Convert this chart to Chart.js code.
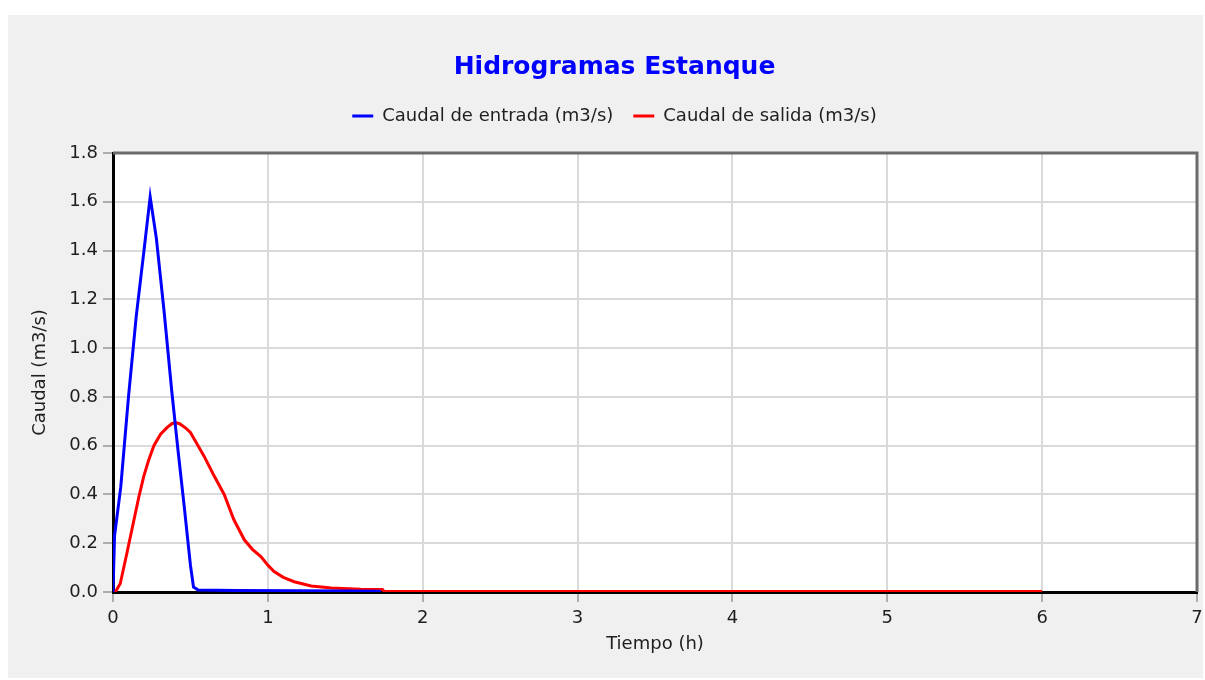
<!DOCTYPE html>
<html lang="es">
<head>
<meta charset="utf-8">
<title>Hidrogramas Estanque</title>
<script src="https://cdn.jsdelivr.net/npm/chart.js@4.4.1/dist/chart.umd.min.js"></script>
<style>
  html, body { margin: 0; padding: 0; background: #fff; }
  .panel { position: absolute; left: 8px; top: 15px; width: 1195px; height: 663px; background: #f0f0f0; }
  .panel canvas { display: block; }
</style>
</head>
<body>
<div class="panel"><canvas id="hidrograma" width="1195" height="663"></canvas></div>
<script>
// ---- Datos del estanque ----
const tiempoEntrada = [0, 0.01, 0.05, 0.1, 0.15, 0.2, 0.24, 0.28, 0.33, 0.38, 0.42, 0.46, 0.5, 0.52, 0.55, 0.8, 1.2, 1.5, 1.73];
const caudalEntrada = [0, 0.23, 0.43, 0.8, 1.13, 1.4, 1.62, 1.45, 1.15, 0.82, 0.58, 0.35, 0.11, 0.02, 0.008, 0.006, 0.005, 0.004, 0.003];

const tiempoSalida = [0, 0.02, 0.047, 0.09, 0.13, 0.167, 0.199, 0.23, 0.264, 0.307, 0.35, 0.38, 0.404, 0.43, 0.47, 0.5, 0.54, 0.588, 0.65, 0.718, 0.78, 0.848, 0.9, 0.955, 1.0, 1.04, 1.1, 1.17, 1.28, 1.41, 1.6, 1.74, 1.75, 3, 4.5, 6];
const caudalSalida = [0, 0.005, 0.035, 0.16, 0.28, 0.39, 0.475, 0.54, 0.6, 0.647, 0.675, 0.69, 0.695, 0.69, 0.672, 0.654, 0.61, 0.557, 0.48, 0.4, 0.297, 0.214, 0.175, 0.145, 0.11, 0.084, 0.06, 0.042, 0.025, 0.016, 0.011, 0.01, 0.003, 0.002, 0.002, 0.002];

const ticksTiempo = [0, 1, 2, 3, 4, 5, 6, 7];
const ticksCaudal = [0, 0.2, 0.4, 0.6, 0.8, 1.0, 1.2, 1.4, 1.6, 1.8];

const puntos = (xs, ys) => xs.map((x, i) => ({ x, y: ys[i] }));

Chart.defaults.font.family = '"DejaVu Sans", sans-serif';
Chart.defaults.color = '#1e1e1e';

// fondo blanco del area de trazado + marco superior/derecho
const marcoGrafico = {
  id: 'marcoGrafico',
  beforeInit(chart) {
    // deja aire entre la leyenda y el grafico
    const fitOriginal = chart.legend.fit;
    chart.legend.fit = function () {
      fitOriginal.call(this);
      this.height += 18;
    };
  },
  beforeDraw(chart) {
    const { ctx, chartArea: a } = chart;
    ctx.save();
    ctx.fillStyle = '#fff';
    ctx.fillRect(a.left, a.top, a.right - a.left, a.bottom - a.top);
    ctx.restore();
  },
  afterDraw(chart) {
    const { ctx, chartArea: a } = chart;
    ctx.save();
    ctx.strokeStyle = '#6b6b6b';
    ctx.lineWidth = 3;
    ctx.beginPath();
    ctx.moveTo(a.left, a.top);
    ctx.lineTo(a.right, a.top);
    ctx.lineTo(a.right, a.bottom);
    ctx.stroke();
    ctx.restore();
  }
};

const grid = { color: '#dadada', lineWidth: 2, tickLength: 10, tickColor: '#adadad', tickWidth: 2 };

new Chart(document.getElementById('hidrograma'), {
  type: 'line',
  data: {
    datasets: [
      {
        label: 'Caudal de entrada (m3/s)',
        data: puntos(tiempoEntrada, caudalEntrada),
        borderColor: '#0000ff',
        backgroundColor: '#0000ff',
        borderWidth: 3,
        pointRadius: 0,
        tension: 0
      },
      {
        label: 'Caudal de salida (m3/s)',
        data: puntos(tiempoSalida, caudalSalida),
        borderColor: '#ff0000',
        backgroundColor: '#ff0000',
        borderWidth: 3,
        pointRadius: 0,
        tension: 0
      }
    ]
  },
  options: {
    responsive: false,
    animation: false,
    events: [],
    layout: { padding: { left: 18, right: 0, top: 0, bottom: 0 } },
    plugins: {
      title: {
        display: true,
        text: 'Hidrogramas Estanque',
        color: '#0000ff',
        font: { size: 25, weight: 'bold' },
        padding: { top: 37, bottom: 5 }
      },
      legend: {
        labels: {
          usePointStyle: true,
          pointStyle: 'line',
          pointStyleWidth: 21,
          padding: 20,
          font: { size: 18 }
        }
      },
      tooltip: { enabled: false }
    },
    scales: {
      x: {
        type: 'linear',
        min: 0,
        max: 7,
        afterBuildTicks: s => { s.ticks = ticksTiempo.map(v => ({ value: v })); },
        afterFit: s => { s.height = 86; s.paddingLeft = 0; s.paddingRight = 6; },
        grid,
        border: { color: '#000', width: 3 },
        ticks: { font: { size: 18 }, padding: 6, maxRotation: 0, callback: v => String(v) },
        title: { display: true, text: 'Tiempo (h)', font: { size: 18 }, padding: { top: 0, bottom: 23 } }
      },
      y: {
        min: 0,
        max: 1.8,
        afterBuildTicks: s => { s.ticks = ticksCaudal.map(v => ({ value: v })); },
        afterFit: s => { s.width = 87; },
        grid,
        border: { color: '#000', width: 3 },
        ticks: { font: { size: 18 }, padding: 5, callback: v => v.toFixed(1) },
        title: { display: true, text: 'Caudal (m3/s)', font: { size: 18 }, padding: { top: 4, bottom: 0 } }
      }
    }
  },
  plugins: [marcoGrafico]
});
</script>
</body>
</html>
